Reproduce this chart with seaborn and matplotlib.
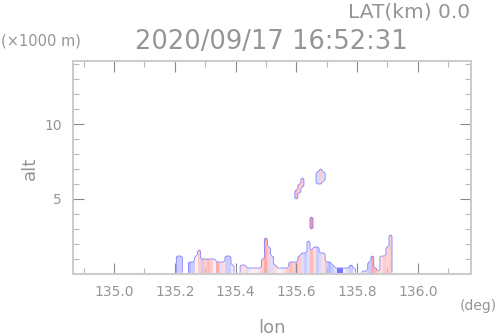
import numpy as np
import pandas as pd
import seaborn as sns
import matplotlib
matplotlib.use("Agg")
import matplotlib.pyplot as plt
from matplotlib.ticker import FixedLocator

# grid of the cross section
lon_min, lon_max, dlon = 134.865, 136.175, 0.01
alt_max, dalt = 14.2, 0.2

# low level echoes: column lon, echo top (km), doppler value (-1..1)
echo_lon = [135.21, 135.22, 135.23, 135.24, 135.25, 135.26, 135.27, 135.28, 135.29, 135.30,
            135.31, 135.32, 135.33, 135.34, 135.35, 135.36, 135.37, 135.38, 135.39, 135.40,
            135.41, 135.42, 135.43, 135.44, 135.45, 135.46, 135.47, 135.48, 135.49, 135.50,
            135.51, 135.52, 135.53, 135.54, 135.55, 135.56, 135.57, 135.58, 135.59, 135.60,
            135.61, 135.62, 135.63, 135.64, 135.65, 135.66, 135.67, 135.68, 135.69, 135.70,
            135.71, 135.72, 135.73, 135.74, 135.75, 135.76, 135.77, 135.78, 135.79, 135.80,
            135.81, 135.82, 135.83, 135.84, 135.85, 135.86, 135.87, 135.88, 135.89, 135.90,
            135.91]
echo_top = [1.3, 1.3, 0.0, 0.0, 0.9, 0.9, 1.3, 1.6, 1.1, 1.1,
            1.1, 1.1, 1.1, 0.9, 0.8, 0.8, 1.2, 1.3, 0.6, 0.0,
            0.0, 0.6, 0.6, 0.4, 0.4, 0.4, 0.4, 0.5, 1.0, 2.4,
            1.8, 1.3, 0.7, 0.4, 0.4, 0.4, 0.4, 0.9, 0.9, 0.9,
            1.2, 1.5, 1.5, 2.2, 1.7, 1.8, 1.8, 1.5, 1.4, 0.9,
            0.8, 0.7, 0.5, 0.5, 0.5, 0.4, 0.4, 0.6, 0.5, 0.0,
            0.0, 0.3, 0.2, 0.8, 1.3, 0.4, 0.3, 1.2, 1.3, 1.8,
            2.6]
echo_val = [-0.3, -0.3, 0.0, 0.0, -0.4, -0.3, 0.1, 0.3, -0.3, 0.3,
            0.4, 0.3, -0.1, 0.5, -0.2, 0.2, -0.3, -0.3, -0.1, 0.0,
            0.0, 0.2, 0.2, -0.2, -0.1, 0.1, -0.1, 0.2, 0.3, 0.5,
            0.3, -0.2, 0.2, 0.1, -0.1, 0.2, 0.3, 0.4, 0.3, 0.4,
            0.3, -0.2, -0.3, -0.2, 0.4, 0.2, -0.3, -0.2, 0.2, -0.3,
            -0.4, -0.3, -0.2, -0.8, -0.8, -0.1, -0.2, -0.3, -0.1, 0.0,
            0.0, 0.2, -0.2, -0.3, 0.5, 0.4, 0.2, 0.2, 0.3, 0.25,
            0.3]

# elevated echoes: lon, bottom (km), top (km), value
blob_lon = [135.60, 135.61, 135.62, 135.65, 135.67, 135.68, 135.69]
blob_bot = [5.0, 5.4, 5.8, 3.0, 6.0, 6.1, 6.2]
blob_top = [5.6, 6.1, 6.5, 3.8, 6.9, 7.1, 6.9]
blob_val = [0.4, 0.3, 0.3, 0.6, -0.2, 0.3, -0.2]

ncol = int(round((lon_max - lon_min) / dlon))
nrow = int(round(alt_max / dalt))
alt_c = (np.arange(nrow) + 0.5) * dalt
field = np.full((nrow, ncol), np.nan)

def col_of(lon):
    return int(round((lon - lon_min) / dlon - 0.5))

for lo, top, v in zip(echo_lon, echo_top, echo_val):
    field[alt_c < top, col_of(lo)] = v
for lo, b, t, v in zip(blob_lon, blob_bot, blob_top, blob_val):
    field[(alt_c > b) & (alt_c < t), col_of(lo)] = v

df = pd.DataFrame(field)

gray = "#959595"
fig = plt.figure(figsize=(4.98, 3.36), dpi=100)
ax = fig.add_axes([73 / 498, 62 / 336, 398 / 498, 213 / 336])
sns.heatmap(df, ax=ax, cmap="bwr", vmin=-1.5, vmax=1.5, cbar=False,
            xticklabels=False, yticklabels=False)
ax.set_ylim(0, nrow)
ax.set_xlim(0, ncol)

# blue edge around echoes
mask = np.isfinite(field).astype(float)
xc = np.arange(ncol) + 0.5
yc = np.arange(nrow) + 0.5
ax.contour(xc, yc, mask, levels=[0.5], colors="#8585ff", linewidths=0.6)

# ticks in data units
def xpos(lon):
    return (lon - lon_min) / dlon

def ypos(z):
    return z / dalt

xmaj = [135.0, 135.2, 135.4, 135.6, 135.8, 136.0]
xmin = [134.9, 135.1, 135.3, 135.5, 135.7, 135.9, 136.1]
ymaj = [5, 10]
ymin = [1, 2, 3, 4, 6, 7, 8, 9, 11, 12, 13, 14]
ax.xaxis.set_major_locator(FixedLocator([xpos(v) for v in xmaj]))
ax.xaxis.set_minor_locator(FixedLocator([xpos(v) for v in xmin]))
ax.yaxis.set_major_locator(FixedLocator([ypos(v) for v in ymaj]))
ax.yaxis.set_minor_locator(FixedLocator([ypos(v) for v in ymin]))
ax.set_xticklabels([f"{v:.1f}" for v in xmaj], color=gray, fontsize=10)
ax.set_yticklabels([str(v) for v in ymaj], color=gray, fontsize=10)
ax.tick_params(which="both", direction="in", top=True, right=True,
               bottom=True, left=True, color="#8a8a8a", width=0.8)
ax.tick_params(which="major", length=8, pad=8)
ax.tick_params(which="minor", length=4, color="#b8b8b8")
for s in ax.spines.values():
    s.set_visible(True)
    s.set_color("#cccccc")
    s.set_linewidth(1.5)

ax.set_xlabel("")
ax.set_ylabel("")
fig.text(272 / 498, 1 - 328 / 336, "lon", ha="center", va="center", color=gray, fontsize=13)
fig.text(30 / 498, 1 - 168 / 336, "alt", ha="center", va="center", color=gray,
         fontsize=13, rotation=90)
fig.text(497 / 498, 1 - 306 / 336, "(deg)", ha="right", va="center", color=gray, fontsize=10)
fig.text(1 / 498, 1 - 41 / 336, "(\u00d71000 m)", ha="left", va="center", color=gray, fontsize=10.5)
fig.text(271 / 498, 1 - 42 / 336, "2020/09/17 16:52:31", ha="center", va="center",
         color=gray, fontsize=18.5)
fig.text(470 / 498, 1 - 12 / 336, "LAT(km) 0.0", ha="right", va="center", color=gray,
         fontsize=14.5)

fig.savefig("out.png", dpi=100, facecolor="white")
